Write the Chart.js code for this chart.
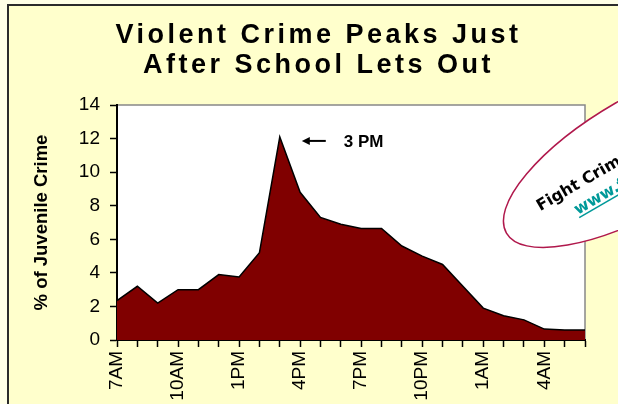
<!DOCTYPE html>
<html lang="en">
<head>
    <meta charset="UTF-8">
    <title>Violent Crime Peaks Just After School Lets Out</title>
    <script src="https://cdn.jsdelivr.net/npm/chart.js"></script>
    <style>
        body {
            margin: 0;
            width: 618px;
            height: 404px;
            overflow: hidden;
            background-color: #ffffe6;
            position: relative;
        }
        .frame {
            position: absolute;
            left: 7px;
            top: 4px;
            width: 700px;
            height: 500px;
            border: 2px solid #2b2b2b;
            background-color: #ffffcc;
        }
        canvas {
            position: absolute;
            left: 0;
            top: 0;
        }
    </style>
</head>
<body>
    <div class="frame"></div>
    <canvas id="crimeChart" width="618" height="404"></canvas>

    <script>
        // hourly share of juvenile violent crime, 7AM through 6AM
        const hours = ['7AM', '8AM', '9AM', '10AM', '11AM', '12PM', '1PM', '2PM', '3PM', '4PM', '5PM', '6PM',
                       '7PM', '8PM', '9PM', '10PM', '11PM', '12AM', '1AM', '2AM', '3AM', '4AM', '5AM', '6AM'];
        const crimeShare = [2.35, 3.2, 2.2, 3.0, 3.0, 3.9, 3.75, 5.2, 12.1, 8.8, 7.3, 6.9,
                            6.65, 6.65, 5.6, 5.0, 4.5, 3.2, 1.9, 1.45, 1.2, 0.65, 0.6, 0.6];
        const tickLabels = ['7AM', '10AM', '1PM', '4PM', '7PM', '10PM', '1AM', '4AM'];
        const peakLabel = '3 PM';

        const ctx = document.getElementById('crimeChart').getContext('2d');

        // white plot area with grey top/right edges, plus the callouts
        const decorations = {
            id: 'decorations',
            beforeDraw(chart) {
                const c = chart.ctx;
                const a = chart.chartArea;
                // spread out the title letters like the original, and centre it on the page
                if (chart.titleBlock && !chart.titleBlock._spaced) {
                    const orig = chart.titleBlock.draw.bind(chart.titleBlock);
                    chart.titleBlock.draw = function () {
                        c.save();
                        c.translate(26, 0);
                        c.letterSpacing = '3.5px';
                        orig();
                        c.restore();
                    };
                    chart.titleBlock._spaced = true;
                }
                c.save();
                c.fillStyle = '#ffffff';
                c.fillRect(a.left, a.top, a.right - a.left, a.bottom - a.top);
                c.strokeStyle = '#888888';
                c.lineWidth = 1.5;
                c.beginPath();
                c.moveTo(a.left, a.top);
                c.lineTo(a.right, a.top);
                c.lineTo(a.right, a.bottom);
                c.stroke();
                c.restore();
            },
            afterDraw(chart) {
                const c = chart.ctx;
                const x = chart.scales.x;
                const y = chart.scales.y;
                const peak = crimeShare.indexOf(Math.max(...crimeShare));
                const px = x.getPixelForValue(peak);
                const py = y.getPixelForValue(crimeShare[peak]);

                // arrow + "3 PM"
                c.save();
                c.strokeStyle = '#000';
                c.fillStyle = '#000';
                c.lineWidth = 2;
                const ay = py + 4;
                c.beginPath();
                c.moveTo(px + 27, ay);
                c.lineTo(px + 46, ay);
                c.stroke();
                c.beginPath();
                c.moveTo(px + 22, ay);
                c.lineTo(px + 30, ay - 4);
                c.lineTo(px + 30, ay + 4);
                c.closePath();
                c.fill();
                c.font = 'bold 17px "Liberation Sans", Arial, sans-serif';
                c.textBaseline = 'middle';
                c.textAlign = 'left';
                c.fillText(peakLabel, px + 64, ay + 1);
                c.restore();

                // tilted ellipse badge
                c.save();
                c.translate(645, 153);
                c.rotate(-30 * Math.PI / 180);
                c.beginPath();
                c.ellipse(0, 0, 160, 58, 0, 0, Math.PI * 2);
                c.fillStyle = '#ffffff';
                c.fill();
                c.strokeStyle = '#b0184c';
                c.lineWidth = 1.5;
                c.stroke();
                c.textAlign = 'center';
                c.textBaseline = 'alphabetic';
                c.fillStyle = '#000000';
                c.font = 'bold 16px "DejaVu Sans", Verdana, sans-serif';
                c.fillText('Fight Crime: Invest in Kids', 0, -2);
                c.fillStyle = '#009999';
                c.font = 'bold 16px "DejaVu Sans", Verdana, sans-serif';
                const link = 'www.fightcrime.org';
                c.fillText(link, 0, 20);
                const w = c.measureText(link).width;
                c.strokeStyle = '#009999';
                c.lineWidth = 1.5;
                c.beginPath();
                c.moveTo(-w / 2, 23);
                c.lineTo(w / 2, 23);
                c.stroke();
                c.restore();
            }
        };

        const crimeChart = new Chart(ctx, {
            type: 'line',
            data: {
                labels: hours,
                datasets: [{
                    label: '% of Juvenile Crime',
                    data: crimeShare,
                    borderColor: '#000000',
                    borderWidth: 1.5,
                    backgroundColor: '#800000',
                    fill: 'origin',
                    pointRadius: 0,
                    tension: 0
                }]
            },
            options: {
                responsive: false,
                animation: false,
                layout: { padding: { left: 0, right: 33, top: 0, bottom: 0 } },
                plugins: {
                    legend: { display: false },
                    tooltip: { enabled: false },
                    title: {
                        display: true,
                        text: ['Violent Crime Peaks Just', 'After School Lets Out'],
                        color: '#000000',
                        font: { family: '"Liberation Sans", Arial, sans-serif', size: 27, weight: 'bold', lineHeight: 1.13 },
                        padding: { top: 20, bottom: 24 }
                    }
                },
                scales: {
                    x: {
                        offset: false,
                        grid: { drawOnChartArea: false, tickLength: 7, color: '#000000', tickWidth: 1.5 },
                        border: { color: '#000000', width: 2 },
                        ticks: {
                            autoSkip: false,
                            minRotation: 90,
                            maxRotation: 90,
                            padding: 4,
                            color: '#000000',
                            font: { family: '"Liberation Sans", Arial, sans-serif', size: 19 },
                            callback: function (value, index) {
                                const h = hours[index];
                                return tickLabels.includes(h) ? h : '';
                            }
                        },
                        afterFit(scale) { scale.height = 64; }
                    },
                    y: {
                        min: 0,
                        max: 14,
                        grid: { drawOnChartArea: false, tickLength: 7, color: '#000000', tickWidth: 1.5 },
                        border: { color: '#000000', width: 2 },
                        ticks: {
                            stepSize: 2,
                            padding: 10,
                            color: '#000000',
                            font: { family: '"Liberation Sans", Arial, sans-serif', size: 19 }
                        },
                        title: {
                            display: true,
                            text: '% of Juvenile Crime',
                            color: '#000000',
                            font: { family: '"Liberation Sans", Arial, sans-serif', size: 18.5, weight: 'bold' },
                            padding: { top: 31, bottom: 0 }
                        },
                        afterFit(scale) { scale.width = 117; }
                    }
                }
            },
            plugins: [decorations]
        });
    </script>
</body>
</html>
